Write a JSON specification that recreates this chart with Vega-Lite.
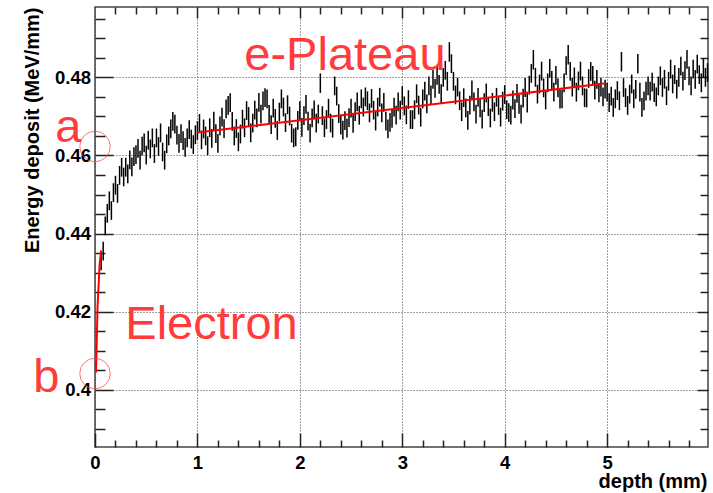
{
"$schema":"https://vega.github.io/schema/vega-lite/v6.json",
"width":613,"height":440,
"autosize":{"type":"none"},
"padding":{"left":95,"top":7,"right":5,"bottom":46},
"background":"white",
"config":{"view":{"stroke":"#444","strokeWidth":1.5},"font":"Liberation Sans"},
"datasets":{
"h":[
{"x":0.06,"y":0.4330,"e":0.0024},{"x":0.08,"y":0.4355,"e":0.0024},{"x":0.10,"y":0.4420,"e":0.0024},{"x":0.12,"y":0.4452,"e":0.0024},{"x":0.14,"y":0.4484,"e":0.0024},{"x":0.16,"y":0.4459,"e":0.0024},{"x":0.18,"y":0.4505,"e":0.0024},{"x":0.20,"y":0.4524,"e":0.0024},{"x":0.22,"y":0.4503,"e":0.0024},{"x":0.24,"y":0.4549,"e":0.0024},
{"x":0.26,"y":0.4570,"e":0.0024},{"x":0.28,"y":0.4545,"e":0.0024},{"x":0.30,"y":0.4570,"e":0.0024},{"x":0.32,"y":0.4553,"e":0.0024},{"x":0.34,"y":0.4589,"e":0.0024},{"x":0.36,"y":0.4571,"e":0.0024},{"x":0.38,"y":0.4597,"e":0.0024},{"x":0.40,"y":0.4602,"e":0.0024},{"x":0.42,"y":0.4618,"e":0.0024},{"x":0.44,"y":0.4588,"e":0.0024},
{"x":0.46,"y":0.4624,"e":0.0024},{"x":0.48,"y":0.4632,"e":0.0024},{"x":0.50,"y":0.4601,"e":0.0024},{"x":0.52,"y":0.4639,"e":0.0024},{"x":0.54,"y":0.4617,"e":0.0024},{"x":0.56,"y":0.4645,"e":0.0024},{"x":0.58,"y":0.4605,"e":0.0024},{"x":0.60,"y":0.4645,"e":0.0024},{"x":0.62,"y":0.4623,"e":0.0024},{"x":0.64,"y":0.4658,"e":0.0024},
{"x":0.66,"y":0.4609,"e":0.0024},{"x":0.68,"y":0.4588,"e":0.0024},{"x":0.70,"y":0.4630,"e":0.0024},{"x":0.72,"y":0.4650,"e":0.0024},{"x":0.74,"y":0.4668,"e":0.0024},{"x":0.76,"y":0.4687,"e":0.0024},{"x":0.78,"y":0.4680,"e":0.0024},{"x":0.80,"y":0.4652,"e":0.0024},{"x":0.82,"y":0.4631,"e":0.0024},{"x":0.84,"y":0.4656,"e":0.0024},
{"x":0.86,"y":0.4638,"e":0.0024},{"x":0.88,"y":0.4621,"e":0.0024},{"x":0.90,"y":0.4645,"e":0.0024},{"x":0.92,"y":0.4666,"e":0.0024},{"x":0.94,"y":0.4642,"e":0.0024},{"x":0.96,"y":0.4628,"e":0.0024},{"x":0.98,"y":0.4653,"e":0.0024},{"x":1.00,"y":0.4664,"e":0.0024},{"x":1.02,"y":0.4682,"e":0.0024},{"x":1.04,"y":0.4640,"e":0.0024},
{"x":1.06,"y":0.4668,"e":0.0024},{"x":1.08,"y":0.4650,"e":0.0024},{"x":1.10,"y":0.4625,"e":0.0024},{"x":1.12,"y":0.4671,"e":0.0024},{"x":1.14,"y":0.4644,"e":0.0024},{"x":1.16,"y":0.4688,"e":0.0024},{"x":1.18,"y":0.4656,"e":0.0024},{"x":1.20,"y":0.4631,"e":0.0024},{"x":1.22,"y":0.4676,"e":0.0024},{"x":1.24,"y":0.4698,"e":0.0024},
{"x":1.26,"y":0.4669,"e":0.0024},{"x":1.28,"y":0.4719,"e":0.0024},{"x":1.30,"y":0.4728,"e":0.0024},{"x":1.32,"y":0.4735,"e":0.0024},{"x":1.34,"y":0.4687,"e":0.0024},{"x":1.36,"y":0.4650,"e":0.0024},{"x":1.38,"y":0.4669,"e":0.0024},{"x":1.40,"y":0.4635,"e":0.0024},{"x":1.42,"y":0.4655,"e":0.0024},{"x":1.44,"y":0.4693,"e":0.0024},
{"x":1.46,"y":0.4671,"e":0.0024},{"x":1.48,"y":0.4715,"e":0.0024},{"x":1.50,"y":0.4700,"e":0.0024},{"x":1.52,"y":0.4658,"e":0.0024},{"x":1.54,"y":0.4683,"e":0.0024},{"x":1.56,"y":0.4716,"e":0.0024},{"x":1.58,"y":0.4696,"e":0.0024},{"x":1.60,"y":0.4736,"e":0.0024},{"x":1.62,"y":0.4706,"e":0.0024},{"x":1.64,"y":0.4740,"e":0.0024},
{"x":1.66,"y":0.4748,"e":0.0024},{"x":1.68,"y":0.4745,"e":0.0024},{"x":1.70,"y":0.4705,"e":0.0024},{"x":1.72,"y":0.4679,"e":0.0024},{"x":1.74,"y":0.4721,"e":0.0024},{"x":1.76,"y":0.4695,"e":0.0024},{"x":1.78,"y":0.4664,"e":0.0024},{"x":1.80,"y":0.4711,"e":0.0024},{"x":1.82,"y":0.4745,"e":0.0024},{"x":1.84,"y":0.4724,"e":0.0024},
{"x":1.86,"y":0.4684,"e":0.0024},{"x":1.88,"y":0.4730,"e":0.0024},{"x":1.90,"y":0.4701,"e":0.0024},{"x":1.92,"y":0.4657,"e":0.0024},{"x":1.94,"y":0.4645,"e":0.0024},{"x":1.96,"y":0.4648,"e":0.0024},{"x":1.98,"y":0.4690,"e":0.0024},{"x":2.00,"y":0.4715,"e":0.0024},{"x":2.02,"y":0.4672,"e":0.0024},{"x":2.04,"y":0.4702,"e":0.0024},
{"x":2.06,"y":0.4731,"e":0.0024},{"x":2.08,"y":0.4688,"e":0.0024},{"x":2.10,"y":0.4657,"e":0.0024},{"x":2.12,"y":0.4696,"e":0.0024},{"x":2.14,"y":0.4717,"e":0.0024},{"x":2.16,"y":0.4683,"e":0.0024},{"x":2.18,"y":0.4706,"e":0.0024},{"x":2.20,"y":0.4785,"e":0.0025},{"x":2.22,"y":0.4702,"e":0.0024},{"x":2.24,"y":0.4671,"e":0.0024},
{"x":2.26,"y":0.4692,"e":0.0024},{"x":2.28,"y":0.4721,"e":0.0024},{"x":2.30,"y":0.4683,"e":0.0024},{"x":2.32,"y":0.4670,"e":0.0024},{"x":2.34,"y":0.4778,"e":0.0024},{"x":2.36,"y":0.4752,"e":0.0024},{"x":2.38,"y":0.4707,"e":0.0024},{"x":2.40,"y":0.4678,"e":0.0024},{"x":2.42,"y":0.4665,"e":0.0024},{"x":2.44,"y":0.4689,"e":0.0024},
{"x":2.46,"y":0.4670,"e":0.0024},{"x":2.48,"y":0.4697,"e":0.0024},{"x":2.50,"y":0.4721,"e":0.0024},{"x":2.52,"y":0.4682,"e":0.0024},{"x":2.54,"y":0.4712,"e":0.0024},{"x":2.56,"y":0.4737,"e":0.0024},{"x":2.58,"y":0.4703,"e":0.0024},{"x":2.60,"y":0.4745,"e":0.0024},{"x":2.62,"y":0.4724,"e":0.0024},{"x":2.64,"y":0.4750,"e":0.0024},
{"x":2.66,"y":0.4740,"e":0.0024},{"x":2.68,"y":0.4709,"e":0.0024},{"x":2.70,"y":0.4746,"e":0.0024},{"x":2.72,"y":0.4716,"e":0.0024},{"x":2.74,"y":0.4688,"e":0.0024},{"x":2.76,"y":0.4724,"e":0.0024},{"x":2.78,"y":0.4749,"e":0.0024},{"x":2.80,"y":0.4709,"e":0.0024},{"x":2.82,"y":0.4736,"e":0.0024},{"x":2.84,"y":0.4688,"e":0.0024},
{"x":2.86,"y":0.4668,"e":0.0024},{"x":2.88,"y":0.4685,"e":0.0024},{"x":2.90,"y":0.4695,"e":0.0024},{"x":2.92,"y":0.4724,"e":0.0024},{"x":2.94,"y":0.4703,"e":0.0024},{"x":2.96,"y":0.4737,"e":0.0024},{"x":2.98,"y":0.4716,"e":0.0024},{"x":3.00,"y":0.4753,"e":0.0024},{"x":3.02,"y":0.4727,"e":0.0024},{"x":3.04,"y":0.4704,"e":0.0024},
{"x":3.06,"y":0.4743,"e":0.0024},{"x":3.08,"y":0.4692,"e":0.0024},{"x":3.10,"y":0.4692,"e":0.0024},{"x":3.12,"y":0.4717,"e":0.0024},{"x":3.14,"y":0.4758,"e":0.0024},{"x":3.16,"y":0.4729,"e":0.0024},{"x":3.18,"y":0.4698,"e":0.0024},{"x":3.20,"y":0.4745,"e":0.0024},{"x":3.22,"y":0.4765,"e":0.0024},{"x":3.24,"y":0.4732,"e":0.0024},
{"x":3.26,"y":0.4778,"e":0.0024},{"x":3.28,"y":0.4755,"e":0.0024},{"x":3.30,"y":0.4795,"e":0.0024},{"x":3.32,"y":0.4772,"e":0.0024},{"x":3.34,"y":0.4805,"e":0.0024},{"x":3.36,"y":0.4782,"e":0.0024},{"x":3.38,"y":0.4758,"e":0.0024},{"x":3.40,"y":0.4800,"e":0.0024},{"x":3.42,"y":0.4818,"e":0.0024},{"x":3.44,"y":0.4790,"e":0.0024},
{"x":3.46,"y":0.4865,"e":0.0025},{"x":3.48,"y":0.4835,"e":0.0024},{"x":3.50,"y":0.4790,"e":0.0024},{"x":3.52,"y":0.4755,"e":0.0024},{"x":3.54,"y":0.4775,"e":0.0024},{"x":3.56,"y":0.4740,"e":0.0024},{"x":3.58,"y":0.4712,"e":0.0024},{"x":3.60,"y":0.4748,"e":0.0024},{"x":3.62,"y":0.4722,"e":0.0024},{"x":3.64,"y":0.4690,"e":0.0024},
{"x":3.66,"y":0.4729,"e":0.0024},{"x":3.68,"y":0.4768,"e":0.0024},{"x":3.70,"y":0.4737,"e":0.0024},{"x":3.72,"y":0.4706,"e":0.0024},{"x":3.74,"y":0.4749,"e":0.0024},{"x":3.76,"y":0.4722,"e":0.0024},{"x":3.78,"y":0.4693,"e":0.0024},{"x":3.80,"y":0.4735,"e":0.0024},{"x":3.82,"y":0.4760,"e":0.0024},{"x":3.84,"y":0.4725,"e":0.0024},
{"x":3.86,"y":0.4696,"e":0.0024},{"x":3.88,"y":0.4736,"e":0.0024},{"x":3.90,"y":0.4712,"e":0.0024},{"x":3.92,"y":0.4749,"e":0.0024},{"x":3.94,"y":0.4728,"e":0.0024},{"x":3.96,"y":0.4698,"e":0.0024},{"x":3.98,"y":0.4739,"e":0.0024},{"x":4.00,"y":0.4756,"e":0.0024},{"x":4.02,"y":0.4717,"e":0.0024},{"x":4.04,"y":0.4710,"e":0.0024},
{"x":4.06,"y":0.4703,"e":0.0024},{"x":4.08,"y":0.4742,"e":0.0024},{"x":4.10,"y":0.4720,"e":0.0024},{"x":4.12,"y":0.4759,"e":0.0024},{"x":4.14,"y":0.4731,"e":0.0024},{"x":4.16,"y":0.4706,"e":0.0024},{"x":4.18,"y":0.4747,"e":0.0024},{"x":4.20,"y":0.4774,"e":0.0024},{"x":4.22,"y":0.4734,"e":0.0024},{"x":4.24,"y":0.4780,"e":0.0024},
{"x":4.26,"y":0.4810,"e":0.0024},{"x":4.28,"y":0.4845,"e":0.0025},{"x":4.30,"y":0.4800,"e":0.0024},{"x":4.32,"y":0.4757,"e":0.0024},{"x":4.34,"y":0.4783,"e":0.0024},{"x":4.36,"y":0.4816,"e":0.0024},{"x":4.38,"y":0.4773,"e":0.0024},{"x":4.40,"y":0.4742,"e":0.0024},{"x":4.42,"y":0.4786,"e":0.0024},{"x":4.44,"y":0.4823,"e":0.0024},
{"x":4.46,"y":0.4792,"e":0.0024},{"x":4.48,"y":0.4762,"e":0.0024},{"x":4.50,"y":0.4805,"e":0.0024},{"x":4.52,"y":0.4773,"e":0.0024},{"x":4.54,"y":0.4744,"e":0.0024},{"x":4.56,"y":0.4745,"e":0.0024},{"x":4.58,"y":0.4786,"e":0.0024},{"x":4.60,"y":0.4830,"e":0.0024},{"x":4.62,"y":0.4858,"e":0.0025},{"x":4.64,"y":0.4815,"e":0.0024},
{"x":4.66,"y":0.4775,"e":0.0024},{"x":4.68,"y":0.4801,"e":0.0024},{"x":4.70,"y":0.4762,"e":0.0024},{"x":4.72,"y":0.4791,"e":0.0024},{"x":4.74,"y":0.4816,"e":0.0024},{"x":4.76,"y":0.4778,"e":0.0024},{"x":4.78,"y":0.4748,"e":0.0024},{"x":4.80,"y":0.4747,"e":0.0024},{"x":4.82,"y":0.4797,"e":0.0024},{"x":4.84,"y":0.4815,"e":0.0024},
{"x":4.86,"y":0.4805,"e":0.0024},{"x":4.88,"y":0.4767,"e":0.0024},{"x":4.90,"y":0.4795,"e":0.0024},{"x":4.92,"y":0.4760,"e":0.0024},{"x":4.94,"y":0.4775,"e":0.0024},{"x":4.96,"y":0.4750,"e":0.0024},{"x":4.98,"y":0.4770,"e":0.0024},{"x":5.00,"y":0.4762,"e":0.0024},{"x":5.02,"y":0.4735,"e":0.0024},{"x":5.04,"y":0.4752,"e":0.0024},
{"x":5.06,"y":0.4723,"e":0.0024},{"x":5.08,"y":0.4745,"e":0.0024},{"x":5.10,"y":0.4766,"e":0.0024},{"x":5.12,"y":0.4740,"e":0.0024},{"x":5.14,"y":0.4840,"e":0.0025},{"x":5.16,"y":0.4774,"e":0.0024},{"x":5.18,"y":0.4748,"e":0.0024},{"x":5.20,"y":0.4728,"e":0.0024},{"x":5.22,"y":0.4757,"e":0.0024},{"x":5.24,"y":0.4783,"e":0.0024},
{"x":5.26,"y":0.4745,"e":0.0024},{"x":5.28,"y":0.4769,"e":0.0024},{"x":5.30,"y":0.4835,"e":0.0025},{"x":5.32,"y":0.4762,"e":0.0024},{"x":5.34,"y":0.4723,"e":0.0024},{"x":5.36,"y":0.4740,"e":0.0024},{"x":5.38,"y":0.4765,"e":0.0024},{"x":5.40,"y":0.4778,"e":0.0024},{"x":5.42,"y":0.4765,"e":0.0024},{"x":5.44,"y":0.4788,"e":0.0024},
{"x":5.46,"y":0.4761,"e":0.0024},{"x":5.48,"y":0.4750,"e":0.0024},{"x":5.50,"y":0.4778,"e":0.0024},{"x":5.52,"y":0.4804,"e":0.0024},{"x":5.54,"y":0.4774,"e":0.0024},{"x":5.56,"y":0.4795,"e":0.0024},{"x":5.58,"y":0.4753,"e":0.0024},{"x":5.60,"y":0.4790,"e":0.0024},{"x":5.62,"y":0.4821,"e":0.0024},{"x":5.64,"y":0.4783,"e":0.0024},
{"x":5.66,"y":0.4807,"e":0.0024},{"x":5.68,"y":0.4770,"e":0.0024},{"x":5.70,"y":0.4800,"e":0.0024},{"x":5.72,"y":0.4829,"e":0.0024},{"x":5.74,"y":0.4790,"e":0.0024},{"x":5.76,"y":0.4817,"e":0.0024},{"x":5.78,"y":0.4846,"e":0.0024},{"x":5.80,"y":0.4804,"e":0.0024},{"x":5.82,"y":0.4778,"e":0.0024},{"x":5.84,"y":0.4821,"e":0.0024},
{"x":5.86,"y":0.4795,"e":0.0024},{"x":5.88,"y":0.4834,"e":0.0024},{"x":5.90,"y":0.4807,"e":0.0024},{"x":5.92,"y":0.4786,"e":0.0024},{"x":5.94,"y":0.4824,"e":0.0024},{"x":5.96,"y":0.4800,"e":0.0024},{"x":5.98,"y":0.4812,"e":0.0024}
],
"fit":[{"x":1.0,"y":0.4659},{"x":4.97,"y":0.4784}],
"el":[{"x":0.01,"y":0.4045},{"x":0.025,"y":0.4214},{"x":0.045,"y":0.4320},{"x":0.06,"y":0.4357}],
"circ":[{"x":0,"y":0.4623},{"x":0,"y":0.4042}],
"txt":[{"x":1.458,"y":0.482,"t":"e-Plateau"},{"x":0.296,"y":0.4131,"t":"Electron"},{"x":-0.388,"y":0.4634,"t":"a"},{"x":-0.603,"y":0.3996,"t":"b"}]
},
"layer":[
{"data":{"name":"h"},
 "mark":{"type":"errorbar","color":"black","thickness":1.5},
 "encoding":{
  "x":{"field":"x","type":"quantitative","scale":{"domain":[0,5.985],"nice":false,"zero":false},"axis":null},
  "y":{"field":"y","type":"quantitative","scale":{"domain":[0.3854,0.498],"nice":false,"zero":false},"axis":null},
  "yError":{"field":"e"}}},
{"data":{"name":"fit"},
 "mark":{"type":"line","color":"#ff0000","strokeWidth":2},
 "encoding":{
  "x":{"field":"x","type":"quantitative","scale":{"domain":[0,5.985],"nice":false,"zero":false},
   "axis":{"orient":"bottom","values":[0,1,2,3,4,5],"format":"d","domain":true,"domainOpacity":0,"ticks":true,"tickSize":-14,"tickWidth":1.5,"tickColor":"#222222",
    "grid":true,"gridDash":[1,2],"gridColor":"#444","gridWidth":1,
    "labelFont":"Liberation Sans","labelFontWeight":"bold","labelFontSize":18.5,"labelColor":"black","labelPadding":20,"labelFlush":false,
    "title":"depth (mm)","titleFont":"Liberation Sans","titleFontWeight":"bold","titleFontSize":20,"titleColor":"black",
    "titleAnchor":"end","titleAlign":"right","titleBaseline":"alphabetic","titleX":612,"titleY":40}},
  "y":{"field":"y","type":"quantitative","scale":{"domain":[0.3854,0.498],"nice":false,"zero":false},
   "axis":{"orient":"left","values":[0.4,0.42,0.44,0.46,0.48],"format":"~g","domain":true,"domainOpacity":0,"ticks":true,"tickSize":-18,"tickWidth":1.5,"tickColor":"#222222",
    "grid":true,"gridDash":[1,2],"gridColor":"#444","gridWidth":1,
    "labelFont":"Liberation Sans","labelFontWeight":"bold","labelFontSize":18.5,"labelColor":"black","labelPadding":22.5,"labelFlush":false,
    "title":"Energy deposit (MeV/mm)","titleFont":"Liberation Sans","titleFontWeight":"bold","titleFontSize":20,"titleColor":"black",
    "titleAnchor":"end","titleAlign":"right","titleBaseline":"bottom","titleAngle":-90,"titleX":-53,"titleY":0}}}},
{"data":{"name":"el"},
 "mark":{"type":"line","color":"#ff0000","strokeWidth":2},
 "encoding":{
  "x":{"field":"x","type":"quantitative","scale":{"domain":[0,5.985],"nice":false,"zero":false},
   "axis":{"orient":"bottom","values":[0.2,0.4,0.6,0.8,1.2,1.4,1.6,1.8,2.2,2.4,2.6,2.8,3.2,3.4,3.6,3.8,4.2,4.4,4.6,4.8,5.2,5.4,5.6,5.8],"domain":true,"domainOpacity":0,"ticks":true,"tickSize":-7,"tickColor":"#222222","tickWidth":1.5,"grid":false,"labels":false,"title":null}},
  "y":{"field":"y","type":"quantitative","scale":{"domain":[0.3854,0.498],"nice":false,"zero":false},
   "axis":{"orient":"left","values":[0.39,0.395,0.405,0.41,0.415,0.425,0.43,0.435,0.445,0.45,0.455,0.465,0.47,0.475,0.485,0.49,0.495],"domain":true,"domainOpacity":0,"ticks":true,"tickSize":-10,"tickColor":"#222222","tickWidth":1.5,"grid":false,"labels":false,"title":null}}}},
{"data":{"name":"circ"},
 "mark":{"type":"point","shape":"circle","filled":false,"size":930,"stroke":"#ff3b3b","strokeWidth":1},
 "encoding":{
  "x":{"field":"x","type":"quantitative","scale":{"domain":[0,5.985],"nice":false,"zero":false},
   "axis":{"orient":"top","values":[1,2,3,4,5],"domain":true,"domainOpacity":0,"ticks":true,"tickSize":-11,"tickColor":"#222222","tickWidth":1.5,"grid":false,"labels":false,"title":null}},
  "y":{"field":"y","type":"quantitative","scale":{"domain":[0.3854,0.498],"nice":false,"zero":false},
   "axis":{"orient":"right","values":[0.4,0.42,0.44,0.46,0.48],"domain":true,"domainOpacity":0,"ticks":true,"tickSize":-11,"tickColor":"#222222","tickWidth":1.5,"grid":false,"labels":false,"title":null}}}},
{"data":{"name":"txt"},
 "mark":{"type":"text","align":"left","baseline":"alphabetic","fontSize":47,"font":"Liberation Sans","color":"#ff3b3b"},
 "encoding":{
  "text":{"field":"t"},
  "x":{"field":"x","type":"quantitative","scale":{"domain":[0,5.985],"nice":false,"zero":false},
   "axis":{"orient":"top","values":[0.2,0.4,0.6,0.8,1.2,1.4,1.6,1.8,2.2,2.4,2.6,2.8,3.2,3.4,3.6,3.8,4.2,4.4,4.6,4.8,5.2,5.4,5.6,5.8],"domain":true,"domainOpacity":0,"ticks":true,"tickSize":-7,"tickColor":"#222222","tickWidth":1.5,"grid":false,"labels":false,"title":null}},
  "y":{"field":"y","type":"quantitative","scale":{"domain":[0.3854,0.498],"nice":false,"zero":false},
   "axis":{"orient":"right","values":[0.39,0.395,0.405,0.41,0.415,0.425,0.43,0.435,0.445,0.45,0.455,0.465,0.47,0.475,0.485,0.49,0.495],"domain":true,"domainOpacity":0,"ticks":true,"tickSize":-8,"tickColor":"#222222","tickWidth":1.5,"grid":false,"labels":false,"title":null}}}}
],
"resolve":{"axis":{"x":"independent","y":"independent"}}
}
